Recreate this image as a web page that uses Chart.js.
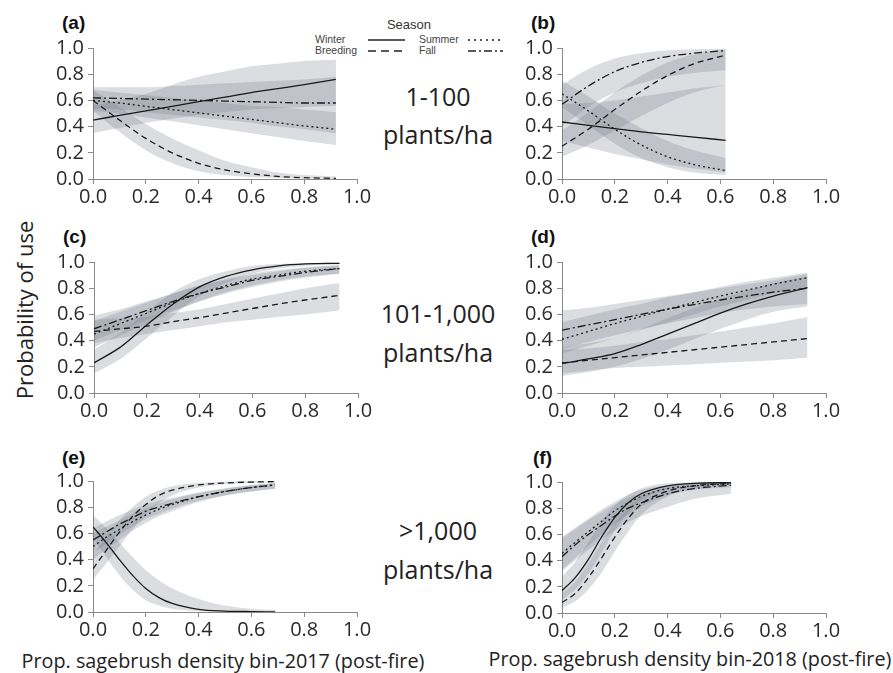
<!DOCTYPE html>
<html><head><meta charset="utf-8">
<script src="https://cdn.jsdelivr.net/npm/chart.js@4.4.1/dist/chart.umd.min.js"></script>
<style>
body{margin:0;background:#fff;width:893px;height:673px;position:relative;overflow:hidden;font-family:"Open Sans",sans-serif;color:#222}
canvas{position:absolute}
.t{position:absolute;white-space:nowrap;transform:translate(-50%,-50%);line-height:1}
.pl{position:absolute;font-family:"Liberation Sans",Arial,sans-serif;font-weight:bold;font-size:19px;transform:translateY(-50%);line-height:1;color:#111}
.mid{font-size:25px;color:#222}
.xt{font-size:19.8px;color:#222}
</style></head><body>
<script>
// ---------- DATA ----------
const xTicks = [0, 0.2, 0.4, 0.6, 0.8, 1.0];
const yTicks = [0, 0.2, 0.4, 0.6, 0.8, 1.0];
const seasons = ["Winter", "Breeding", "Summer", "Fall"];
const densityBins = ["1-100", "101-1,000", ">1,000"];

// Panel (a)
const a_x = [0, 0.1, 0.2, 0.3, 0.4, 0.5, 0.6, 0.7, 0.8, 0.92];
const a_winter    = [0.45, 0.485, 0.52, 0.555, 0.59, 0.625, 0.66, 0.69, 0.72, 0.76];
const a_winter_lo = [0.35, 0.39, 0.43, 0.46, 0.49, 0.51, 0.53, 0.54, 0.55, 0.56];
const a_winter_hi = [0.56, 0.60, 0.65, 0.72, 0.78, 0.82, 0.86, 0.88, 0.90, 0.91];
const a_breed     = [0.60, 0.45, 0.31, 0.20, 0.12, 0.07, 0.04, 0.02, 0.01, 0.005];
const a_breed_lo  = [0.52, 0.36, 0.22, 0.12, 0.06, 0.03, 0.015, 0.008, 0.004, 0.002];
const a_breed_hi  = [0.68, 0.55, 0.42, 0.31, 0.22, 0.14, 0.09, 0.05, 0.03, 0.02];
const a_summer    = [0.60, 0.58, 0.555, 0.53, 0.505, 0.48, 0.455, 0.43, 0.405, 0.38];
const a_summer_lo = [0.52, 0.50, 0.47, 0.44, 0.41, 0.38, 0.35, 0.32, 0.29, 0.26];
const a_summer_hi = [0.68, 0.66, 0.64, 0.62, 0.60, 0.58, 0.56, 0.55, 0.53, 0.51];
const a_fall      = [0.62, 0.615, 0.61, 0.605, 0.60, 0.595, 0.59, 0.585, 0.58, 0.58];
const a_fall_lo   = [0.54, 0.53, 0.51, 0.49, 0.47, 0.45, 0.43, 0.40, 0.38, 0.35];
const a_fall_hi   = [0.70, 0.70, 0.70, 0.71, 0.72, 0.73, 0.74, 0.75, 0.76, 0.78];

// Panel (b)
const b_x = [0, 0.1, 0.2, 0.3, 0.4, 0.5, 0.62];
const b_winter    = [0.435, 0.41, 0.385, 0.36, 0.34, 0.32, 0.295];
const b_winter_lo = [0.29, 0.24, 0.19, 0.15, 0.11, 0.08, 0.05];
const b_winter_hi = [0.57, 0.58, 0.60, 0.63, 0.66, 0.69, 0.72];
const b_breed     = [0.25, 0.38, 0.53, 0.67, 0.79, 0.88, 0.945];
const b_breed_lo  = [0.17, 0.26, 0.37, 0.48, 0.58, 0.66, 0.72];
const b_breed_hi  = [0.37, 0.51, 0.66, 0.79, 0.89, 0.95, 0.99];
const b_summer    = [0.65, 0.52, 0.38, 0.26, 0.17, 0.11, 0.065];
const b_summer_lo = [0.55, 0.41, 0.27, 0.16, 0.09, 0.05, 0.03];
const b_summer_hi = [0.75, 0.63, 0.50, 0.39, 0.29, 0.22, 0.16];
const b_fall      = [0.57, 0.71, 0.82, 0.89, 0.935, 0.96, 0.98];
const b_fall_lo   = [0.40, 0.55, 0.66, 0.73, 0.78, 0.81, 0.83];
const b_fall_hi   = [0.72, 0.84, 0.92, 0.96, 0.98, 0.99, 0.995];

// Panel (c)
const c_x = [0, 0.1, 0.2, 0.3, 0.4, 0.5, 0.6, 0.7, 0.8, 0.93];
const c_winter    = [0.23, 0.35, 0.52, 0.68, 0.81, 0.89, 0.94, 0.97, 0.985, 0.99];
const c_winter_lo = [0.15, 0.26, 0.42, 0.59, 0.74, 0.84, 0.91, 0.95, 0.97, 0.98];
const c_winter_hi = [0.33, 0.46, 0.62, 0.77, 0.87, 0.93, 0.97, 0.985, 0.99, 0.995];
const c_breed     = [0.47, 0.49, 0.51, 0.545, 0.575, 0.61, 0.645, 0.68, 0.71, 0.745];
const c_breed_lo  = [0.38, 0.42, 0.45, 0.48, 0.51, 0.54, 0.56, 0.58, 0.60, 0.63];
const c_breed_hi  = [0.56, 0.57, 0.58, 0.61, 0.64, 0.68, 0.72, 0.76, 0.80, 0.84];
const c_summer    = [0.45, 0.53, 0.61, 0.69, 0.76, 0.82, 0.87, 0.90, 0.93, 0.95];
const c_summer_lo = [0.35, 0.44, 0.53, 0.62, 0.70, 0.77, 0.82, 0.86, 0.89, 0.91];
const c_summer_hi = [0.55, 0.62, 0.69, 0.76, 0.82, 0.87, 0.91, 0.94, 0.96, 0.975];
const c_fall      = [0.49, 0.56, 0.63, 0.70, 0.76, 0.81, 0.86, 0.89, 0.92, 0.95];
const c_fall_lo   = [0.40, 0.48, 0.56, 0.63, 0.70, 0.76, 0.81, 0.85, 0.88, 0.91];
const c_fall_hi   = [0.59, 0.64, 0.70, 0.76, 0.82, 0.86, 0.90, 0.93, 0.955, 0.975];

// Panel (d)
const d_x = [0, 0.1, 0.2, 0.3, 0.4, 0.5, 0.6, 0.7, 0.8, 0.93];
const d_winter    = [0.225, 0.26, 0.30, 0.37, 0.45, 0.53, 0.61, 0.68, 0.74, 0.805];
const d_winter_lo = [0.13, 0.16, 0.20, 0.26, 0.33, 0.41, 0.49, 0.56, 0.62, 0.66];
const d_winter_hi = [0.35, 0.38, 0.42, 0.49, 0.57, 0.65, 0.72, 0.78, 0.84, 0.89];
const d_breed     = [0.23, 0.25, 0.27, 0.29, 0.31, 0.33, 0.35, 0.37, 0.39, 0.415];
const d_breed_lo  = [0.15, 0.17, 0.19, 0.20, 0.21, 0.22, 0.23, 0.24, 0.25, 0.27];
const d_breed_hi  = [0.33, 0.34, 0.36, 0.39, 0.41, 0.44, 0.47, 0.50, 0.53, 0.58];
const d_summer    = [0.41, 0.47, 0.53, 0.585, 0.64, 0.69, 0.74, 0.785, 0.83, 0.88];
const d_summer_lo = [0.30, 0.36, 0.42, 0.48, 0.54, 0.60, 0.66, 0.71, 0.76, 0.81];
const d_summer_hi = [0.54, 0.59, 0.64, 0.68, 0.73, 0.77, 0.81, 0.85, 0.88, 0.92];
const d_fall      = [0.48, 0.52, 0.56, 0.60, 0.64, 0.675, 0.71, 0.74, 0.77, 0.80];
const d_fall_lo   = [0.34, 0.39, 0.44, 0.49, 0.53, 0.57, 0.61, 0.64, 0.66, 0.68];
const d_fall_hi   = [0.63, 0.65, 0.68, 0.71, 0.74, 0.77, 0.80, 0.83, 0.86, 0.91];

// Panel (e)
const e_x = [0, 0.05, 0.1, 0.15, 0.2, 0.25, 0.3, 0.4, 0.5, 0.6, 0.69];
const e_winter    = [0.65, 0.53, 0.40, 0.28, 0.18, 0.11, 0.065, 0.02, 0.007, 0.003, 0.001];
const e_winter_lo = [0.56, 0.42, 0.28, 0.17, 0.09, 0.05, 0.025, 0.006, 0.002, 0.001, 0.0];
const e_winter_hi = [0.74, 0.64, 0.53, 0.42, 0.32, 0.24, 0.18, 0.10, 0.05, 0.025, 0.015];
const e_breed     = [0.33, 0.47, 0.61, 0.73, 0.82, 0.89, 0.93, 0.97, 0.985, 0.992, 0.995];
const e_breed_lo  = [0.25, 0.37, 0.50, 0.63, 0.74, 0.83, 0.89, 0.95, 0.975, 0.985, 0.99];
const e_breed_hi  = [0.44, 0.57, 0.70, 0.80, 0.88, 0.93, 0.96, 0.985, 0.995, 0.998, 0.999];
const e_summer    = [0.50, 0.57, 0.63, 0.69, 0.74, 0.785, 0.82, 0.88, 0.92, 0.95, 0.97];
const e_summer_lo = [0.40, 0.48, 0.55, 0.62, 0.68, 0.73, 0.77, 0.84, 0.89, 0.92, 0.94];
const e_summer_hi = [0.60, 0.65, 0.70, 0.75, 0.79, 0.83, 0.86, 0.91, 0.94, 0.97, 0.985];
const e_fall      = [0.55, 0.61, 0.67, 0.72, 0.77, 0.80, 0.83, 0.88, 0.92, 0.95, 0.97];
const e_fall_lo   = [0.45, 0.52, 0.59, 0.65, 0.71, 0.75, 0.79, 0.85, 0.89, 0.92, 0.94];
const e_fall_hi   = [0.64, 0.69, 0.74, 0.78, 0.82, 0.85, 0.87, 0.91, 0.945, 0.97, 0.985];

// Panel (f)
const f_x = [0, 0.05, 0.1, 0.15, 0.2, 0.25, 0.3, 0.4, 0.5, 0.64];
const f_winter    = [0.17, 0.27, 0.41, 0.58, 0.73, 0.84, 0.91, 0.97, 0.99, 0.995];
const f_winter_lo = [0.10, 0.18, 0.30, 0.46, 0.63, 0.76, 0.86, 0.95, 0.98, 0.99];
const f_winter_hi = [0.28, 0.39, 0.54, 0.70, 0.82, 0.90, 0.95, 0.99, 0.997, 0.999];
const f_breed     = [0.08, 0.15, 0.27, 0.42, 0.58, 0.72, 0.83, 0.93, 0.97, 0.99];
const f_breed_lo  = [0.04, 0.09, 0.18, 0.31, 0.47, 0.62, 0.75, 0.89, 0.95, 0.98];
const f_breed_hi  = [0.15, 0.24, 0.38, 0.54, 0.69, 0.81, 0.89, 0.96, 0.985, 0.997];
const f_summer    = [0.455, 0.54, 0.62, 0.70, 0.78, 0.84, 0.89, 0.95, 0.97, 0.985];
const f_summer_lo = [0.33, 0.42, 0.51, 0.60, 0.68, 0.75, 0.81, 0.90, 0.94, 0.96];
const f_summer_hi = [0.58, 0.65, 0.72, 0.79, 0.85, 0.90, 0.94, 0.975, 0.99, 0.998];
const f_fall      = [0.43, 0.52, 0.60, 0.67, 0.74, 0.80, 0.84, 0.91, 0.95, 0.975];
const f_fall_lo   = [0.32, 0.40, 0.48, 0.56, 0.63, 0.69, 0.74, 0.81, 0.87, 0.91];
const f_fall_hi   = [0.57, 0.64, 0.71, 0.77, 0.83, 0.88, 0.91, 0.96, 0.98, 0.995];
</script>

<div class="pl" style="left:62px;top:22px">(a)</div>
<div class="pl" style="left:531px;top:22px">(b)</div>
<div class="pl" style="left:63px;top:236px">(c)</div>
<div class="pl" style="left:531px;top:236px">(d)</div>
<div class="pl" style="left:62px;top:457px">(e)</div>
<div class="pl" style="left:533px;top:457px">(f)</div>

<div class="t mid" style="left:438px;top:96px">1-100</div>
<div class="t mid" style="left:438px;top:134px">plants/ha</div>
<div class="t mid" style="left:438px;top:313px">101-1,000</div>
<div class="t mid" style="left:438px;top:352px">plants/ha</div>
<div class="t mid" style="left:438px;top:530px">&gt;1,000</div>
<div class="t mid" style="left:438px;top:569px">plants/ha</div>

<div class="t" style="left:24px;top:310px;font-size:22px;transform:translate(-50%,-50%) rotate(-90deg)">Probability of use</div>
<div class="t xt" style="left:223px;top:661px">Prop. sagebrush density bin-2017 (post-fire)</div>
<div class="t xt" style="left:690px;top:659px">Prop. sagebrush density bin-2018 (post-fire)</div>

<svg style="position:absolute;left:300px;top:10px" width="220" height="50" font-family="Liberation Sans, Arial, sans-serif">
  <text x="109" y="19" font-size="13" text-anchor="middle" fill="#333">Season</text>
  <text x="15" y="33" font-size="10.5" fill="#444">Winter</text>
  <text x="15" y="44" font-size="10.5" fill="#444">Breeding</text>
  <text x="119" y="33" font-size="10.5" fill="#444">Summer</text>
  <text x="119" y="44" font-size="10.5" fill="#444">Fall</text>
  <line x1="68" y1="30" x2="105" y2="30" stroke="#222" stroke-width="1.4"/>
  <line x1="68" y1="41" x2="105" y2="41" stroke="#222" stroke-width="1.4" stroke-dasharray="8,5"/>
  <line x1="168" y1="30" x2="203" y2="30" stroke="#222" stroke-width="1.4" stroke-dasharray="2,4"/>
  <line x1="168" y1="41" x2="203" y2="41" stroke="#222" stroke-width="1.4" stroke-dasharray="8,3,2,3"/>
</svg>

<canvas id="pa" width="346" height="181" style="left:33px;top:32px"></canvas>
<canvas id="pb" width="346" height="181" style="left:502px;top:32px"></canvas>
<canvas id="pc" width="346" height="181" style="left:34px;top:246px"></canvas>
<canvas id="pd" width="346" height="181" style="left:502px;top:246px"></canvas>
<canvas id="pe" width="346" height="181" style="left:33px;top:465px"></canvas>
<canvas id="pf" width="346" height="181" style="left:502px;top:466px"></canvas>

<script>
const BAND = 'rgba(110,120,135,0.25)';
const LINE = '#1a1a1a';
const DASH = { Winter: [], Breeding: [6, 4], Summer: [2, 3], Fall: [8, 3, 2, 3] };

function pts(xs, ys) { return xs.map((x, i) => ({ x: x, y: ys[i] })); }

function makePanel(id, xs, series) {
  const datasets = [];
  series.forEach(s => {
    datasets.push({ data: pts(xs, s.lo), borderWidth: 0, pointRadius: 0, fill: false, order: 10, cubicInterpolationMode: 'monotone', borderColor: 'rgba(0,0,0,0)' });
    datasets.push({ data: pts(xs, s.hi), borderWidth: 0, pointRadius: 0, fill: '-1', backgroundColor: BAND, order: 10, cubicInterpolationMode: 'monotone', borderColor: 'rgba(0,0,0,0)' });
  });
  series.forEach(s => {
    datasets.push({ label: s.name, data: pts(xs, s.mid), borderColor: LINE, borderWidth: 1.3, borderDash: DASH[s.name], pointRadius: 0, fill: false, order: 0, cubicInterpolationMode: 'monotone' });
  });
  const tickFont = { family: 'Open Sans', size: 20 };
  const axisCommon = {
    type: 'linear', min: 0, max: 1,
    grid: { display: true, drawOnChartArea: false, drawTicks: true, tickLength: 5, color: '#8a8a8a', lineWidth: 1 },
    border: { display: true, color: '#8a8a8a', width: 1 },
  };
  new Chart(document.getElementById(id), {
    type: 'line',
    data: { datasets },
    options: {
      responsive: false, animation: false, devicePixelRatio: 1,
      layout: { padding: { left: 0, top: 12, right: 22, bottom: 0 } },
      plugins: { legend: { display: false }, tooltip: { enabled: false } },
      scales: {
        x: Object.assign({}, axisCommon, {
          afterBuildTicks: sc => { sc.ticks = xTicks.map(v => ({ value: v })); },
          ticks: { font: tickFont, color: '#2a2a2a', padding: 1, maxRotation: 0, autoSkip: false, callback: v => Number(v).toFixed(1) },
          afterFit: sc => { sc.height = 34; }
        }),
        y: Object.assign({}, axisCommon, {
          afterBuildTicks: sc => { sc.ticks = yTicks.map(v => ({ value: v })); },
          ticks: { font: tickFont, color: '#2a2a2a', padding: 4, autoSkip: false, callback: v => Number(v).toFixed(1) },
          afterFit: sc => { sc.width = 60; }
        })
      }
    }
  });
}

function S(name, mid, lo, hi) { return { name, mid, lo, hi }; }

makePanel('pa', a_x, [S('Winter', a_winter, a_winter_lo, a_winter_hi), S('Breeding', a_breed, a_breed_lo, a_breed_hi), S('Summer', a_summer, a_summer_lo, a_summer_hi), S('Fall', a_fall, a_fall_lo, a_fall_hi)]);
makePanel('pb', b_x, [S('Winter', b_winter, b_winter_lo, b_winter_hi), S('Breeding', b_breed, b_breed_lo, b_breed_hi), S('Summer', b_summer, b_summer_lo, b_summer_hi), S('Fall', b_fall, b_fall_lo, b_fall_hi)]);
makePanel('pc', c_x, [S('Winter', c_winter, c_winter_lo, c_winter_hi), S('Breeding', c_breed, c_breed_lo, c_breed_hi), S('Summer', c_summer, c_summer_lo, c_summer_hi), S('Fall', c_fall, c_fall_lo, c_fall_hi)]);
makePanel('pd', d_x, [S('Winter', d_winter, d_winter_lo, d_winter_hi), S('Breeding', d_breed, d_breed_lo, d_breed_hi), S('Summer', d_summer, d_summer_lo, d_summer_hi), S('Fall', d_fall, d_fall_lo, d_fall_hi)]);
makePanel('pe', e_x, [S('Winter', e_winter, e_winter_lo, e_winter_hi), S('Breeding', e_breed, e_breed_lo, e_breed_hi), S('Summer', e_summer, e_summer_lo, e_summer_hi), S('Fall', e_fall, e_fall_lo, e_fall_hi)]);
makePanel('pf', f_x, [S('Winter', f_winter, f_winter_lo, f_winter_hi), S('Breeding', f_breed, f_breed_lo, f_breed_hi), S('Summer', f_summer, f_summer_lo, f_summer_hi), S('Fall', f_fall, f_fall_lo, f_fall_hi)]);
</script>
</body></html>
